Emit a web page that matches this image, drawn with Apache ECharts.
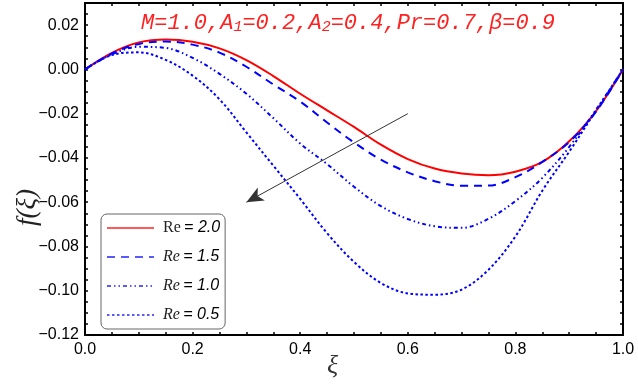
<!DOCTYPE html>
<html>
<head>
<meta charset="utf-8">
<script src="https://cdn.jsdelivr.net/npm/echarts@6/dist/echarts.min.js"></script>
<style>
  html, body { margin: 0; padding: 0; background: #fff; }
  #chart { width: 638px; height: 387px; }
</style>
</head>
<body>
<div id="chart"></div>
<script>
// xi 取样点
const xiValues = [0, 0.05, 0.1, 0.15, 0.2, 0.25, 0.3, 0.35, 0.4, 0.45, 0.5,
  0.55, 0.6, 0.65, 0.7, 0.75, 0.8, 0.85, 0.9, 0.95, 1.0];
const re20 = [0, 0.0075, 0.0122, 0.0135, 0.0125, 0.0095, 0.0042, -0.003, -0.011, -0.0185, -0.026,
  -0.034, -0.0405, -0.0448, -0.047, -0.0478, -0.0462, -0.0418, -0.0325, -0.0188, 0];
const re15 = [0, 0.0072, 0.0115, 0.0126, 0.0112, 0.0076, 0.0012, -0.0068, -0.0145, -0.024, -0.033,
  -0.0408, -0.0465, -0.0505, -0.0526, -0.0525, -0.0487, -0.0418, -0.0328, -0.019, 0];
const re10 = [0, 0.0068, 0.0102, 0.0097, 0.0052, -0.002, -0.011, -0.022, -0.0335, -0.0428, -0.053,
  -0.0618, -0.0676, -0.0709, -0.0716, -0.0675, -0.0595, -0.049, -0.035, -0.0182, 0];
const re05 = [0, 0.0065, 0.0077, 0.0043, -0.0028, -0.0135, -0.0285, -0.0435, -0.0585, -0.074, -0.087,
  -0.0965, -0.1012, -0.1018, -0.0995, -0.0905, -0.0755, -0.0548, -0.0372, -0.0185, 0];
const reNames = ['Re = 2.0', 'Re = 1.5', 'Re = 1.0', 'Re = 0.5'];
const yTicks = [-0.12, 0.03, 0.02]; // min, max, interval
const xTicks = [0, 1, 0.2];

function pairs(ys) {
  return xiValues.map((x, i) => [x, ys[i]]);
}

const chart = echarts.init(document.getElementById('chart'));

const frameAxis = {
  type: 'value',
  axisLine: { show: true, onZero: false, lineStyle: { color: '#000', width: 2 } },
  axisTick: { show: true, inside: true, length: 3, lineStyle: { color: '#000', width: 1.5 } },
  minorTick: { show: true, splitNumber: 4, length: 3, lineStyle: { color: '#000', width: 1.5 } },
  splitLine: { show: false },
  minorSplitLine: { show: false },
};

function lineSeries(name, ys, color, dash) {
  return {
    name: name,
    type: 'line',
    data: pairs(ys),
    smooth: 0.35,
    symbol: 'none',
    lineStyle: { color: color, width: 2, type: dash },
    itemStyle: { color: color },
  };
}

const series = [
  lineSeries(reNames[0], re20, '#ff0000', 'solid'),
  lineSeries(reNames[1], re15, '#0000ff', [8, 6]),
  lineSeries(reNames[2], re10, '#0000ff', [4, 3, 1.5, 3, 1.5, 3]),
  lineSeries(reNames[3], re05, '#0000ff', [2.5, 2.5]),
];
// 箭头
series[0].markLine = {
  silent: true,
  symbol: ['none', 'arrow'],
  symbolSize: [11, 17],
  label: { show: false },
  lineStyle: { color: '#333', width: 1, type: 'solid' },
  itemStyle: { color: '#111' },
  data: [[{ coord: [0.6, -0.02] }, { coord: [0.3, -0.06] }]],
};

let option = {
  animation: false,
  backgroundColor: '#fff',
  title: {
    text: '{t|M=1.0,A}{s|1}{t|=0.2,A}{s|2}{t|=0.4,Pr=0.7,β=0.9}',
    left: 136,
    top: 7,
    textStyle: {
      rich: {
        t: { fontFamily: 'Liberation Mono', fontStyle: 'italic', fontWeight: 'normal', fontSize: 22, color: '#ff2020' },
        s: { fontFamily: 'Liberation Mono', fontStyle: 'italic', fontWeight: 'normal', fontSize: 15, color: '#ff2020', padding: [8, 0, 0, 0] },
      },
    },
  },
  grid: { left: 85, right: 15, top: 3, bottom: 52 },
  legend: {
    left: 101,
    top: 214,
    orient: 'vertical',
    data: reNames,
    itemWidth: 47,
    itemHeight: 14,
    itemGap: 13,
    padding: [6, 5, 6, 5],
    backgroundColor: '#fff',
    borderColor: '#666',
    borderWidth: 1,
    borderRadius: 6,
    itemStyle: { opacity: 0 },
    lineStyle: { opacity: 0.65 },
    formatter: function (name) {
      const v = name.split('=')[1];
      const r = name === reNames[0] ? 'r0' : 'r';
      return '{' + r + '|Re} {v|=' + v + '}';
    },
    textStyle: {
      padding: [0, 0, 0, 4],
      rich: {
        r0: { fontFamily: 'Liberation Serif', fontSize: 16, color: '#222' },
        r: { fontFamily: 'Liberation Serif', fontStyle: 'italic', fontSize: 16, color: '#222' },
        v: { fontFamily: 'Liberation Sans', fontStyle: 'italic', fontSize: 16, color: '#000' },
      },
    },
  },
  xAxis: [
    Object.assign({}, frameAxis, {
      position: 'bottom',
      min: xTicks[0], max: xTicks[1], interval: xTicks[2],
      axisLabel: {
        color: '#000', fontSize: 16, fontFamily: 'Liberation Sans', margin: 7,
        formatter: (v) => v.toFixed(1),
      },
    }),
    Object.assign({}, frameAxis, {
      position: 'top',
      min: xTicks[0], max: xTicks[1], interval: xTicks[2],
      axisLabel: { show: false },
    }),
  ],
  yAxis: [
    Object.assign({}, frameAxis, {
      position: 'left',
      min: yTicks[0], max: yTicks[1], interval: yTicks[2],
      axisLabel: {
        color: '#000', fontSize: 16, fontFamily: 'Liberation Sans', margin: 6,
        showMaxLabel: false,
        formatter: (v) => (v < -1e-9 ? '\u2212' : '') + Math.abs(v).toFixed(2),
      },
    }),
    Object.assign({}, frameAxis, {
      position: 'right',
      min: yTicks[0], max: yTicks[1], interval: yTicks[2],
      axisLabel: { show: false },
    }),
  ],
  graphic: [
    {
      type: 'text', left: 327, top: 353,
      style: { text: 'ξ', font: 'italic 26px "Liberation Serif"', fill: '#333' },
    },
    {
      type: 'text', x: 14, y: 226, rotation: Math.PI / 2,
      style: { text: 'f(ξ)', font: 'italic 27px "Liberation Serif"', fill: '#222' },
    },
  ],
  series: series,
};

option && chart.setOption(option);
</script>
</body>
</html>
